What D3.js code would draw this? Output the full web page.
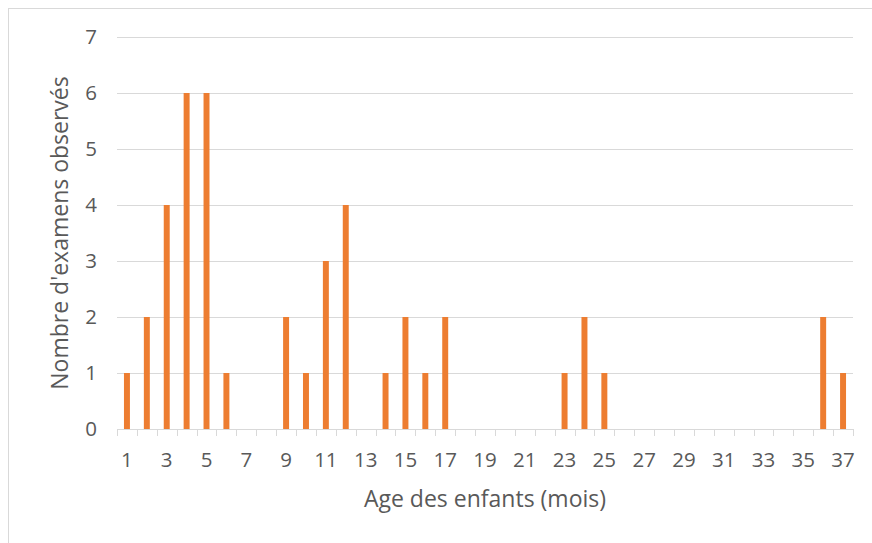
<!DOCTYPE html>
<html><head><meta charset="utf-8">
<script src="https://cdn.jsdelivr.net/npm/d3@7"></script>
<style>body{margin:0;background:#fff}</style>
</head><body>
<svg id="c" width="872" height="543"></svg>
<script>
const ages = d3.range(1, 38).map(String);
const counts = [1,2,4,6,6,1,0,0,2,1,3,4,0,1,2,1,2,0,0,0,0,0,1,2,1,0,0,0,0,0,0,0,0,0,0,2,1];
const yTicks = [0,1,2,3,4,5,6,7];
const xLabels = ages.filter((d,i) => i % 2 === 0);

const svg = d3.select("#c");
const font = "'Open Sans', sans-serif";
const txt = "#595959";
svg.append("rect").attr("x",8.5).attr("y",8.5).attr("width",880).attr("height",560)
  .attr("fill","#fff").attr("stroke","#d9d9d9");

const L = 117, R = 853, T = 37, B = 429;
const x = d3.scaleBand().domain(ages).range([L, R]).paddingInner(0.7).paddingOuter(0.35);
const xb = d3.scaleBand().domain(ages).range([L, R]);
const y = d3.scaleLinear().domain([0,7]).range([B, T]);

svg.append("g").selectAll("line").data(yTicks).join("line")
  .attr("x1",L).attr("x2",R).attr("y1",d=>Math.round(y(d))+0.5).attr("y2",d=>Math.round(y(d))+0.5)
  .attr("stroke","#d9d9d9").attr("stroke-width",1);

svg.append("g").selectAll("text").data(yTicks).join("text")
  .attr("x",97).attr("y",d=>y(d)).attr("dy","0.36em").attr("text-anchor","end")
  .attr("font-family",font).attr("font-size",20.5).attr("fill",txt).text(d=>d);

svg.append("g").selectAll("rect").data(ages).join("rect")
  .attr("x",d=>x(d)).attr("width",x.bandwidth())
  .attr("y",(d,i)=>y(counts[i])).attr("height",(d,i)=>y(0)-y(counts[i]))
  .attr("fill","#ED7D31");

const ax = svg.append("g").attr("stroke","#d9d9d9").attr("stroke-width",1);
ax.append("line").attr("x1",L).attr("x2",R).attr("y1",B+0.5).attr("y2",B+0.5);
const bounds = ages.map(d=>xb(d)).concat([R]);
ax.selectAll("line.t").data(bounds).join("line").attr("class","t")
  .attr("x1",d=>Math.round(d)+0.5).attr("x2",d=>Math.round(d)+0.5).attr("y1",B).attr("y2",B+7);

svg.append("g").selectAll("text").data(xLabels).join("text")
  .attr("x",d=>xb(d)+xb.bandwidth()/2).attr("y",467).attr("text-anchor","middle")
  .attr("font-family",font).attr("font-size",20.5).attr("fill",txt).text(d=>d);

svg.append("text").attr("x",(L+R)/2).attr("y",507).attr("text-anchor","middle")
  .attr("font-family",font).attr("font-size",23).attr("fill",txt).text("Age des enfants (mois)");

svg.append("text").attr("transform",`translate(68,${(T+B)/2 - 0}) rotate(-90)`).attr("text-anchor","middle")
  .attr("font-family",font).attr("font-size",23).attr("fill",txt).text("Nombre d'examens observés");
</script>
</body></html>
